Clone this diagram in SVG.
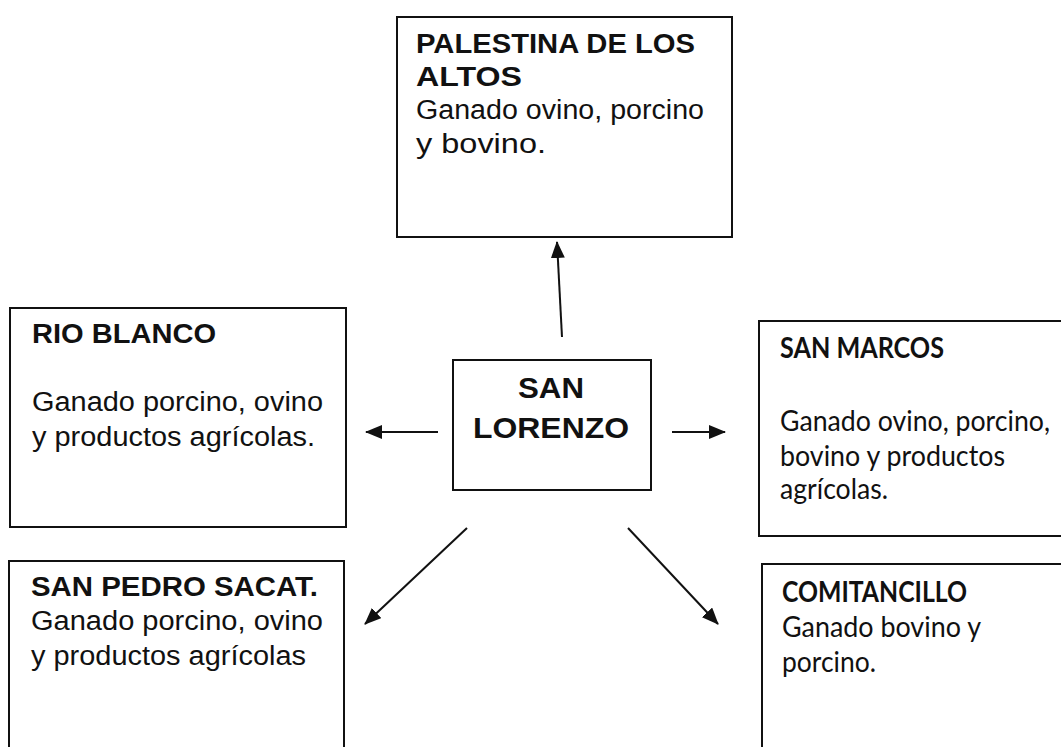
<svg xmlns="http://www.w3.org/2000/svg" width="1061" height="747" viewBox="0 0 1061 747">
<style>
.box{fill:#fff;stroke:#111;stroke-width:2}
.a{font-family:"Liberation Sans",Arial,sans-serif;fill:#111;font-size:27px}
.ab{font-family:"Liberation Sans",Arial,sans-serif;fill:#111;font-size:27px;font-weight:bold}
.c{font-family:Lato,"Open Sans",sans-serif;fill:#111;font-size:28px}
.cb{font-family:Lato,"Open Sans",sans-serif;fill:#111;font-size:28px;font-weight:bold}
.conn{stroke:#111;stroke-width:2;fill:none;marker-end:url(#ah)}
</style>
<defs>
<marker id="ah" markerUnits="userSpaceOnUse" markerWidth="17" markerHeight="14" viewBox="0 0 17 14" refX="16" refY="7" orient="auto">
<path d="M0,0 L17,7 L0,14 z" fill="#111"/>
</marker>
</defs>
<rect width="1061" height="747" fill="#fff"/>
<g id="palestina">
<rect class="box" x="397" y="17" width="335" height="220"/>
<text class="ab" x="416" y="53" textLength="279" lengthAdjust="spacingAndGlyphs">PALESTINA DE LOS</text>
<text class="ab" x="416" y="86" textLength="106" lengthAdjust="spacingAndGlyphs">ALTOS</text>
<text class="a" x="416" y="119" textLength="288" lengthAdjust="spacingAndGlyphs">Ganado ovino, porcino</text>
<text class="a" x="416" y="153" textLength="130" lengthAdjust="spacingAndGlyphs">y bovino.</text>
</g>
<g id="rio-blanco">
<rect class="box" x="10" y="308" width="336" height="219"/>
<text class="ab" x="32" y="343" textLength="184" lengthAdjust="spacingAndGlyphs">RIO BLANCO</text>
<text class="a" x="32" y="411" textLength="291" lengthAdjust="spacingAndGlyphs">Ganado porcino, ovino</text>
<text class="a" x="32" y="446" textLength="283" lengthAdjust="spacingAndGlyphs">y productos agrícolas.</text>
</g>
<g id="san-pedro">
<rect class="box" x="9" y="561" width="335" height="200"/>
<text class="ab" x="31" y="596" textLength="287" lengthAdjust="spacingAndGlyphs">SAN PEDRO SACAT.</text>
<text class="a" x="31" y="630" textLength="292" lengthAdjust="spacingAndGlyphs">Ganado porcino, ovino</text>
<text class="a" x="31" y="665" textLength="275" lengthAdjust="spacingAndGlyphs">y productos agrícolas</text>
</g>
<g id="san-lorenzo">
<rect class="box" x="453" y="360" width="198" height="130"/>
<text class="ab" x="518" y="398" style="font-size:30px" textLength="66" lengthAdjust="spacingAndGlyphs">SAN</text>
<text class="ab" x="473" y="438" style="font-size:30px" textLength="156" lengthAdjust="spacingAndGlyphs">LORENZO</text>
</g>
<g id="san-marcos">
<rect class="box" x="759" y="321" width="312" height="215"/>
<text class="cb" x="780" y="358" textLength="164" lengthAdjust="spacingAndGlyphs">SAN MARCOS</text>
<text class="c" x="780" y="431" textLength="270" lengthAdjust="spacingAndGlyphs">Ganado ovino, porcino,</text>
<text class="c" x="780" y="466" textLength="225" lengthAdjust="spacingAndGlyphs">bovino y productos</text>
<text class="c" x="780" y="499" textLength="108" lengthAdjust="spacingAndGlyphs">agrícolas.</text>
</g>
<g id="comitancillo">
<rect class="box" x="762" y="564" width="310" height="200"/>
<text class="cb" x="782" y="602" textLength="185" lengthAdjust="spacingAndGlyphs">COMITANCILLO</text>
<text class="c" x="782" y="637" textLength="199" lengthAdjust="spacingAndGlyphs">Ganado bovino y</text>
<text class="c" x="782" y="672" textLength="94" lengthAdjust="spacingAndGlyphs">porcino.</text>
</g>
<g id="connectors">
<line class="conn" x1="562" y1="337" x2="557" y2="242"/>
<line class="conn" x1="438" y1="432" x2="366" y2="432"/>
<line class="conn" x1="672" y1="432" x2="725" y2="432"/>
<line class="conn" x1="467" y1="528" x2="365" y2="624"/>
<line class="conn" x1="628" y1="528" x2="718" y2="624"/>
</g>
</svg>
